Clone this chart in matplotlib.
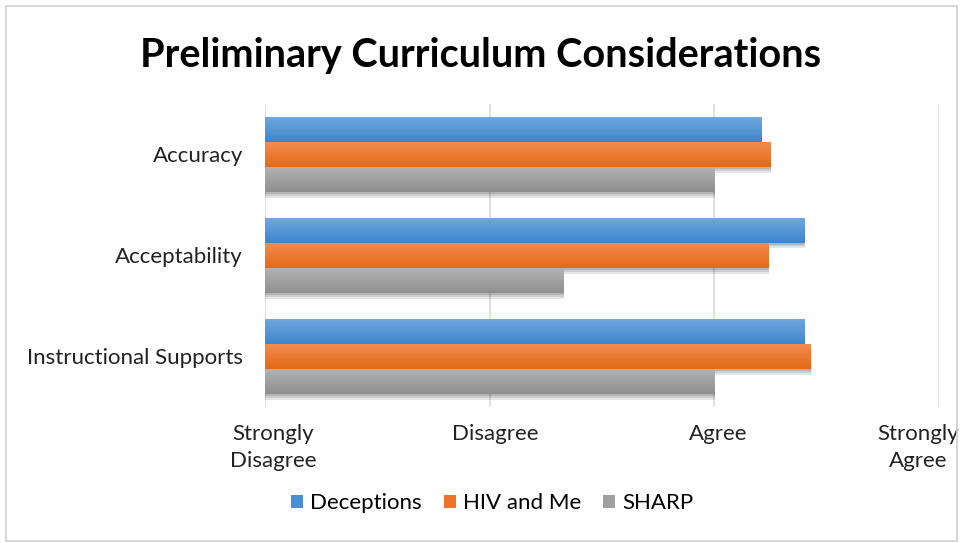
import numpy as np
import matplotlib
matplotlib.use("Agg")
import matplotlib.pyplot as plt
import matplotlib.transforms as mtransforms
from matplotlib.patches import Rectangle, Patch

# Chart data
categories = ["Accuracy", "Acceptability", "Instructional Supports"]
series = ["Deceptions", "HIV and Me", "SHARP"]
deceptions = [3.21, 3.40, 3.40]
hiv_and_me = [3.25, 3.24, 3.43]
sharp = [3.00, 2.33, 3.00]
tick_values = [1, 2, 3, 4]
tick_labels = ["Strongly\nDisagree", "Disagree", "Agree", "Strongly\nAgree"]

# top / bottom shades for the gradient fill of each series
shades = [("#72a9df", "#3e85cc"), ("#f38d52", "#e46a17"), ("#b4b4b4", "#8f8f8f")]
legend_colors = ["#4a8fd6", "#ed7126", "#a0a0a0"]

plt.rcParams['font.family'] = ['Lato', 'DejaVu Sans']

fig = plt.figure(figsize=(9.61, 5.43), dpi=100)
ax = fig.add_axes([0.2758, 0.2505, 0.7013, 0.558])

# thin border round the whole chart
fig.patches.append(Rectangle((0.006, 0.004), 0.99, 0.985, transform=fig.transFigure,
                             fill=False, edgecolor="#d0d0d0", linewidth=1.2))

bar_h = 0.25
y = np.arange(len(categories))
values = [deceptions, hiv_and_me, sharp]

for i, vals in enumerate(values):
    pos = y - bar_h + i * bar_h
    # soft drop shadow
    for k, a in enumerate([0.10, 0.10, 0.12]):
        off = 0.012 * (3 - k)
        ax.barh(pos + off * 1.5, np.array(vals) - 1 + off * 0.08, left=1, height=bar_h,
                color="black", alpha=a, linewidth=0, zorder=2)
    bars = ax.barh(pos, np.array(vals) - 1, left=1, height=bar_h,
                   color=legend_colors[i], linewidth=0, zorder=3)
    top, bottom = shades[i]
    grad = np.linspace(0, 1, 64).reshape(-1, 1)
    c1 = np.array(matplotlib.colors.to_rgb(top))
    c2 = np.array(matplotlib.colors.to_rgb(bottom))
    img = c1 + (c2 - c1) * grad[:, :, None]
    for b in bars:
        x0, y0 = b.get_x(), b.get_y()
        w, h = b.get_width(), b.get_height()
        im = ax.imshow(img, extent=(x0, x0 + w, y0 + h, y0), aspect="auto",
                       interpolation="bilinear", zorder=4)
        im.set_clip_path(b)

ax.set_xlim(1, 4)
ax.set_ylim(len(categories) - 0.5, -0.5)
ax.set_xticks(tick_values)
ax.set_xticklabels(tick_labels, fontsize=16, color="#222222", linespacing=1.45)
ax.set_yticks(y)
ax.set_yticklabels(categories, fontsize=16, color="#222222")
ax.tick_params(axis="y", length=0, pad=16)
ax.tick_params(axis="x", length=0, pad=12)
ax.grid(axis="x", color="#d9d9d9", linewidth=1.2, zorder=0)
ax.set_axisbelow(True)
for s in ax.spines.values():
    s.set_visible(False)

# nudge the labels a little, end ones kept inside the chart
shifts = [8, 6, 4, -21]
for lab, dx in zip(ax.get_xticklabels(), shifts):
    lab.set_transform(lab.get_transform() +
                      mtransforms.ScaledTranslation(dx / 100, 0, fig.dpi_scale_trans))

fig.text(0.5, 0.897, "Preliminary Curriculum Considerations", ha="center", va="center",
         fontsize=28.5, fontweight="bold", color="black")

handles = [Patch(facecolor=c, edgecolor="none") for c in legend_colors]
fig.legend(handles, series, loc="center", bbox_to_anchor=(0.512, 0.073), ncol=3,
           frameon=False, fontsize=16, handlelength=0.55, handleheight=0.55,
           handletextpad=0.3, columnspacing=1.0)

fig.savefig("out.png", dpi=100)
